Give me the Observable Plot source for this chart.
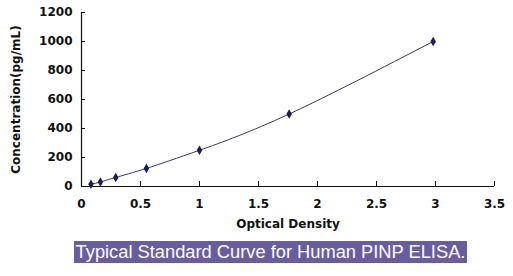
<!DOCTYPE html>
<html>
<head>
<meta charset="utf-8">
<script src="https://cdn.jsdelivr.net/npm/d3@7"></script>
<script src="https://cdn.jsdelivr.net/npm/@observablehq/plot@0.6"></script>
<style>
  html, body { margin: 0; padding: 0; background: #fff; }
  #chart { position: relative; width: 513px; height: 276px; }
  #caption {
    position: absolute; left: 74px; top: 241px; width: 393px; height: 22px;
    background: #6a5d9f; color: #fff;
    font-family: "Liberation Sans", Arial, sans-serif; font-size: 18.3px;
    line-height: 22px; text-align: center; white-space: nowrap;
  }
</style>
</head>
<body>
<div id="chart"><div id="plot"></div><div id="caption">Typical Standard Curve for Human PINP ELISA.</div></div>
<script>
const opticalDensity = [0.08, 0.16, 0.29, 0.55, 1.0, 1.76, 2.98];
const concentration = [15.6, 31.25, 62.5, 125, 250, 500, 1000];
const xTicks = [0, 0.5, 1, 1.5, 2, 2.5, 3, 3.5];
const yTicks = [0, 200, 400, 600, 800, 1000, 1200];

const data = opticalDensity.map((od, i) => ({od, conc: concentration[i]}));
const fmt = d => String(d);

const plot = Plot.plot({
  width: 513,
  height: 236,
  marginLeft: 81,
  marginRight: 19,
  marginTop: 12,
  marginBottom: 50,
  style: {fontFamily: "DejaVu Sans", fontWeight: "bold", fontSize: "12px", color: "#111", background: "transparent"},
  x: {domain: [0, 3.5]},
  y: {domain: [0, 1200]},
  marks: [
    Plot.axisX({ticks: xTicks, tickSize: 0, tickPadding: 13, tickFormat: fmt, fontWeight: "bold", fontSize: 12,
      label: "Optical Density", labelAnchor: "center", labelArrow: false, labelOffset: 41}),
    Plot.axisX({ticks: xTicks, tickSize: -5, tickFormat: () => "", label: null, stroke: "#111"}),
    Plot.axisY({ticks: yTicks, tickSize: 0, tickPadding: 9, tickFormat: fmt, fontWeight: "bold", fontSize: 12,
      label: "Concentration(pg/mL)", labelAnchor: "center", labelArrow: false, labelOffset: 70}),
    Plot.axisY({ticks: yTicks, tickSize: -4, tickFormat: () => "", label: null, stroke: "#111"}),
    Plot.ruleX([0], {stroke: "#111", strokeWidth: 1.2}),
    Plot.ruleY([0], {stroke: "#111", strokeWidth: 1.2}),
    Plot.line(data, {x: "od", y: "conc", curve: "natural", stroke: "#3a3a55", strokeWidth: 1}),
    Plot.dot(data, {x: "od", y: "conc", symbol: "diamond", r: 2, fill: "#1c1c5e", stroke: "#1c1c5e"})
  ]
});
document.getElementById("plot").appendChild(plot);
</script>
</body>
</html>
